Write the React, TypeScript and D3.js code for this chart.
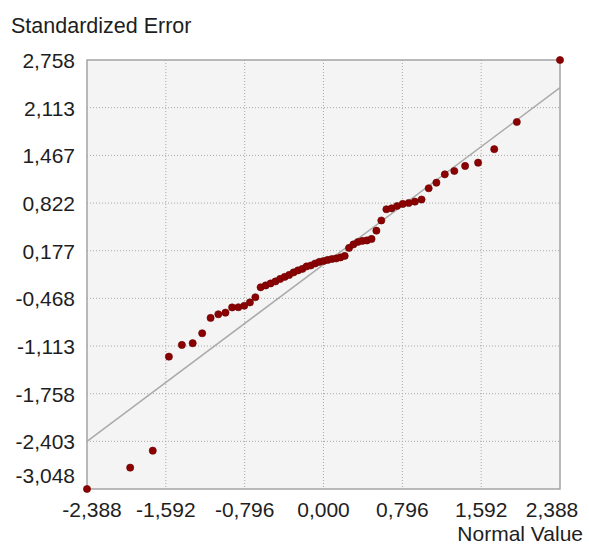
import * as d3 from "d3";
import { useEffect, useRef } from "react";

// theoretical normal quantiles (x) and standardized errors (y)
const normalValues = [
  -2.388, -1.952, -1.724, -1.561, -1.43, -1.321, -1.225, -1.14, -1.062, -0.99,
  -0.923, -0.86, -0.8, -0.743, -0.688, -0.635, -0.584, -0.534, -0.485, -0.438,
  -0.392, -0.347, -0.302, -0.258, -0.214, -0.171, -0.128, -0.085, -0.042, 0.0,
  0.042, 0.085, 0.128, 0.171, 0.214, 0.258, 0.302, 0.347, 0.392, 0.438,
  0.485, 0.534, 0.584, 0.635, 0.688, 0.743, 0.8, 0.86, 0.923, 0.99,
  1.062, 1.14, 1.225, 1.321, 1.43, 1.561, 1.724, 1.952, 2.388,
];
const stdErrors = [
  -3.048, -2.759, -2.529, -1.257, -1.098, -1.075, -0.94, -0.733, -0.683, -0.661,
  -0.591, -0.588, -0.568, -0.523, -0.453, -0.318, -0.293, -0.266, -0.239, -0.205,
  -0.178, -0.151, -0.117, -0.09, -0.07, -0.036, -0.023, 0.004, 0.025, 0.038,
  0.052, 0.065, 0.072, 0.086, 0.106, 0.214, 0.262, 0.295, 0.309, 0.316,
  0.336, 0.448, 0.586, 0.738, 0.751, 0.782, 0.81, 0.823, 0.841, 0.87,
  1.022, 1.098, 1.211, 1.256, 1.324, 1.368, 1.551, 1.919, 2.758,
];

const xTicks = [-2.388, -1.592, -0.796, 0, 0.796, 1.592, 2.388];
const xTickLabels = ["-2,388", "-1,592", "-0,796", "0,000", "0,796", "1,592", "2,388"];
const yTicks = [2.758, 2.113, 1.467, 0.822, 0.177, -0.468, -1.113, -1.758, -2.403, -3.048];
const yTickLabels = ["2,758", "2,113", "1,467", "0,822", "0,177", "-0,468", "-1,113", "-1,758", "-2,403", "-3,048"];

const refLineX = [-2.388, 2.388];
const refLineY = [-2.403, 2.383];

const width = 589;
const height = 547;
const left = 87;
const right = 560;
const top = 60;
const bottom = 489;
const font = "'Liberation Sans', Arial, sans-serif";

export default function App() {
  const svgRef = useRef(null);

  useEffect(() => {
    const svg = d3.select(svgRef.current);
    svg.selectAll("*").remove();

    const x = d3.scaleLinear().domain([-2.388, 2.388]).range([left, right]);
    const y = d3.scaleLinear().domain([-3.048, 2.758]).range([bottom, top]);

    svg
      .append("rect")
      .attr("x", left)
      .attr("y", top)
      .attr("width", right - left)
      .attr("height", bottom - top)
      .attr("fill", "#f4f4f4");

    // dotted grid
    const grid = svg.append("g").attr("stroke", "#a8a8a8").attr("stroke-dasharray", "1,2");
    grid
      .selectAll(".vgrid")
      .data(xTicks.slice(1, -1))
      .join("line")
      .attr("x1", (d) => x(d))
      .attr("x2", (d) => x(d))
      .attr("y1", top)
      .attr("y2", bottom);
    grid
      .selectAll(".hgrid")
      .data(yTicks.slice(1, -1))
      .join("line")
      .attr("x1", left)
      .attr("x2", right)
      .attr("y1", (d) => y(d))
      .attr("y2", (d) => y(d));

    svg
      .append("rect")
      .attr("x", left)
      .attr("y", top)
      .attr("width", right - left)
      .attr("height", bottom - top)
      .attr("fill", "none")
      .attr("stroke", "#a4a4a4")
      .attr("stroke-width", 1.5);

    // reference line
    svg
      .append("line")
      .attr("x1", x(refLineX[0]))
      .attr("y1", y(refLineY[0]))
      .attr("x2", x(refLineX[1]))
      .attr("y2", y(refLineY[1]))
      .attr("stroke", "#aaaaaa")
      .attr("stroke-width", 1.5);

    svg
      .append("g")
      .selectAll("circle")
      .data(normalValues.map((v, i) => [v, stdErrors[i]]))
      .join("circle")
      .attr("cx", (d) => x(d[0]))
      .attr("cy", (d) => y(d[1]))
      .attr("r", 3.6)
      .attr("fill", "#8b0000")
      .attr("stroke", "#6a0000")
      .attr("stroke-width", 0.6);

    // axis labels
    const txt = svg.append("g").attr("font-family", font).attr("fill", "#1e1e1e");
    txt
      .selectAll(".ylab")
      .data(yTicks)
      .join("text")
      .attr("x", 75)
      .attr("y", (d, i) => (i === yTicks.length - 1 ? bottom - 6 : y(d) + 8))
      .attr("text-anchor", "end")
      .attr("font-size", 21)
      .text((d, i) => yTickLabels[i]);
    txt
      .selectAll(".xlab")
      .data(xTicks)
      .join("text")
      .attr("x", (d, i) => (i === 0 ? x(d) + 5 : i === xTicks.length - 1 ? x(d) - 8 : x(d)))
      .attr("y", bottom + 28)
      .attr("text-anchor", "middle")
      .attr("font-size", 21)
      .text((d, i) => xTickLabels[i]);

    txt
      .append("text")
      .attr("x", 11)
      .attr("y", 33)
      .attr("font-size", 21.5)
      .text("Standardized Error");
    txt
      .append("text")
      .attr("x", 583)
      .attr("y", 541)
      .attr("text-anchor", "end")
      .attr("font-size", 21)
      .text("Normal Value");
  }, []);

  return (
    <svg
      ref={svgRef}
      width={width}
      height={height}
      style={{ position: "absolute", left: 0, top: 0, background: "#fff" }}
    />
  );
}
